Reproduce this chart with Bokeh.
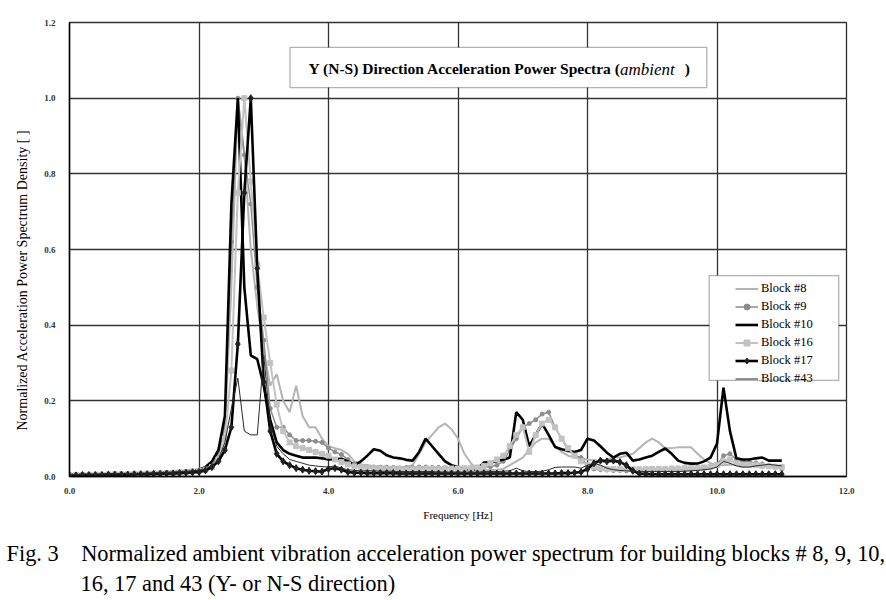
from bokeh.plotting import figure
from bokeh.models import (Label, BoxAnnotation, FixedTicker, PrintfTickFormatter,
                          Range1d, Legend, LegendItem, Title)
from bokeh.embed import file_html
from bokeh.resources import INLINE

# ---------------- data ----------------
freq = [round(i * 0.1, 1) for i in range(111)]   # 0.0 ... 11.0 Hz

block8 = [
    0.006, 0.005, 0.006, 0.007, 0.006, 0.007, 0.008, 0.007, 0.008, 0.008,
    0.009, 0.009, 0.010, 0.010, 0.011, 0.012, 0.012, 0.013, 0.014, 0.015,
    0.018, 0.022, 0.032, 0.060, 0.130, 0.500, 1.000, 0.850, 0.600, 0.450,
    0.330, 0.240, 0.270, 0.200, 0.170, 0.240, 0.160, 0.130, 0.130, 0.100,
    0.080, 0.075, 0.070, 0.060, 0.040, 0.032, 0.030, 0.028, 0.027, 0.026,
    0.025, 0.025, 0.025, 0.030, 0.060, 0.090, 0.110, 0.130, 0.140, 0.125,
    0.100, 0.060, 0.035, 0.018, 0.016, 0.017, 0.018, 0.020, 0.030, 0.040,
    0.050, 0.070, 0.090, 0.100, 0.100, 0.080, 0.065, 0.055, 0.050, 0.048,
    0.045, 0.042, 0.042, 0.045, 0.050, 0.050, 0.055, 0.060, 0.075, 0.090,
    0.100, 0.090, 0.075, 0.075, 0.077, 0.077, 0.077, 0.060, 0.045, 0.035,
    0.030, 0.030, 0.032, 0.030, 0.030, 0.030, 0.030, 0.028, 0.026, 0.025, 0.025]

block9 = [
    0.004, 0.005, 0.004, 0.005, 0.005, 0.006, 0.005, 0.006, 0.006, 0.007,
    0.007, 0.008, 0.008, 0.009, 0.009, 0.010, 0.011, 0.012, 0.013, 0.015,
    0.017, 0.020, 0.030, 0.055, 0.140, 0.620, 1.000, 0.850, 0.720, 0.500,
    0.360, 0.180, 0.130, 0.130, 0.110, 0.095, 0.095, 0.095, 0.093, 0.090,
    0.075, 0.065, 0.058, 0.045, 0.033, 0.028, 0.025, 0.025, 0.024, 0.024,
    0.024, 0.023, 0.024, 0.024, 0.025, 0.025, 0.024, 0.024, 0.023, 0.023,
    0.022, 0.022, 0.022, 0.023, 0.024, 0.026, 0.030, 0.040, 0.070, 0.100,
    0.130, 0.140, 0.150, 0.165, 0.170, 0.130, 0.100, 0.070, 0.055, 0.050,
    0.030, 0.020, 0.018, 0.017, 0.016, 0.016, 0.015, 0.015, 0.015, 0.015,
    0.015, 0.015, 0.016, 0.016, 0.017, 0.018, 0.018, 0.020, 0.022, 0.025,
    0.030, 0.055, 0.060, 0.045, 0.040, 0.038, 0.036, 0.033, 0.030, 0.025, 0.020]

block10 = [
    0.005, 0.005, 0.005, 0.006, 0.005, 0.006, 0.006, 0.006, 0.007, 0.007,
    0.008, 0.008, 0.009, 0.009, 0.010, 0.011, 0.012, 0.013, 0.014, 0.016,
    0.018, 0.025, 0.040, 0.070, 0.160, 0.720, 1.000, 0.500, 0.320, 0.310,
    0.240, 0.150, 0.090, 0.070, 0.060, 0.055, 0.050, 0.050, 0.050, 0.048,
    0.045, 0.046, 0.047, 0.040, 0.030, 0.040, 0.055, 0.072, 0.068, 0.056,
    0.050, 0.048, 0.044, 0.042, 0.065, 0.100, 0.080, 0.060, 0.040, 0.030,
    0.025, 0.020, 0.018, 0.020, 0.037, 0.038, 0.040, 0.045, 0.050, 0.170,
    0.150, 0.080, 0.110, 0.140, 0.110, 0.078, 0.072, 0.068, 0.065, 0.070,
    0.100, 0.095, 0.080, 0.063, 0.050, 0.060, 0.063, 0.042, 0.045, 0.050,
    0.055, 0.065, 0.074, 0.060, 0.042, 0.036, 0.034, 0.034, 0.040, 0.050,
    0.087, 0.235, 0.120, 0.048, 0.045, 0.045, 0.048, 0.050, 0.042, 0.042, 0.042]

block16 = [
    0.003, 0.004, 0.004, 0.004, 0.005, 0.005, 0.005, 0.006, 0.006, 0.006,
    0.007, 0.007, 0.008, 0.008, 0.009, 0.009, 0.010, 0.011, 0.012, 0.013,
    0.015, 0.018, 0.025, 0.045, 0.100, 0.280, 0.750, 1.000, 0.780, 0.560,
    0.420, 0.300, 0.190, 0.120, 0.090, 0.080, 0.075, 0.070, 0.065, 0.060,
    0.055, 0.045, 0.038, 0.032, 0.027, 0.025, 0.023, 0.022, 0.021, 0.020,
    0.020, 0.020, 0.019, 0.019, 0.020, 0.020, 0.020, 0.020, 0.021, 0.021,
    0.021, 0.022, 0.022, 0.024, 0.028, 0.035, 0.045, 0.055, 0.080, 0.110,
    0.130, 0.065, 0.110, 0.140, 0.150, 0.130, 0.100, 0.075, 0.055, 0.040,
    0.030, 0.025, 0.022, 0.020, 0.020, 0.020, 0.020, 0.019, 0.019, 0.020,
    0.020, 0.020, 0.020, 0.021, 0.021, 0.022, 0.022, 0.023, 0.024, 0.026,
    0.030, 0.040, 0.045, 0.035, 0.030, 0.030, 0.030, 0.028, 0.027, 0.026, 0.025]

block17 = [
    0.003, 0.003, 0.004, 0.004, 0.004, 0.004, 0.005, 0.005, 0.005, 0.005,
    0.006, 0.006, 0.006, 0.007, 0.007, 0.008, 0.008, 0.009, 0.010, 0.011,
    0.012, 0.016, 0.025, 0.040, 0.070, 0.130, 0.350, 0.750, 1.000, 0.550,
    0.250, 0.120, 0.060, 0.040, 0.030, 0.022, 0.018, 0.015, 0.014, 0.013,
    0.020, 0.022, 0.018, 0.012, 0.010, 0.010, 0.009, 0.009, 0.009, 0.009,
    0.009, 0.008, 0.008, 0.008, 0.008, 0.008, 0.008, 0.008, 0.008, 0.008,
    0.008, 0.008, 0.008, 0.008, 0.008, 0.008, 0.008, 0.008, 0.008, 0.008,
    0.008, 0.008, 0.008, 0.008, 0.008, 0.008, 0.009, 0.009, 0.010, 0.012,
    0.020, 0.035, 0.042, 0.040, 0.042, 0.038, 0.030, 0.015, 0.008, 0.007,
    0.006, 0.006, 0.006, 0.006, 0.006, 0.006, 0.006, 0.006, 0.006, 0.006,
    0.006, 0.006, 0.006, 0.006, 0.006, 0.006, 0.006, 0.006, 0.006, 0.006, 0.006]

block43 = [
    0.005, 0.005, 0.006, 0.006, 0.006, 0.007, 0.007, 0.007, 0.008, 0.008,
    0.008, 0.009, 0.009, 0.010, 0.010, 0.011, 0.012, 0.013, 0.014, 0.015,
    0.017, 0.020, 0.028, 0.045, 0.090, 0.180, 0.260, 0.120, 0.110, 0.110,
    0.320, 0.140, 0.080, 0.060, 0.045, 0.040, 0.035, 0.030, 0.028, 0.026,
    0.025, 0.028, 0.022, 0.018, 0.016, 0.015, 0.015, 0.015, 0.014, 0.014,
    0.014, 0.013, 0.013, 0.013, 0.013, 0.013, 0.013, 0.012, 0.012, 0.012,
    0.012, 0.012, 0.012, 0.012, 0.013, 0.013, 0.013, 0.014, 0.015, 0.022,
    0.015, 0.013, 0.013, 0.014, 0.018, 0.024, 0.025, 0.025, 0.025, 0.022,
    0.030, 0.035, 0.030, 0.022, 0.018, 0.016, 0.015, 0.014, 0.013, 0.013,
    0.013, 0.013, 0.013, 0.013, 0.013, 0.014, 0.015, 0.016, 0.018, 0.020,
    0.025, 0.040, 0.035, 0.028, 0.025, 0.025, 0.028, 0.030, 0.032, 0.030, 0.028]

x_ticks = [0, 2, 4, 6, 8, 10, 12]
y_ticks = [0.0, 0.2, 0.4, 0.6, 0.8, 1.0, 1.2]
labels = ["Block #8", "Block #9", "Block #10", "Block #16", "Block #17", "Block #43"]

for s in (block8, block9, block10, block16, block17, block43):
    assert len(s) == len(freq)

SERIF = "Liberation Serif"

# ---------------- figure ----------------
p = figure(width=886, height=600, output_backend="svg", toolbar_location=None,
           x_range=Range1d(0, 12), y_range=Range1d(0, 1.2),
           min_border_left=67, min_border_right=40, min_border_top=22,
           min_border_bottom=124)
p.background_fill_color = "white"
p.border_fill_color = "white"
p.outline_line_color = "#303030"
p.outline_line_width = 1.3

for ax in (p.xaxis[0], p.yaxis[0]):
    ax.major_tick_out = 0
    ax.major_tick_in = 0
    ax.minor_tick_out = 0
    ax.minor_tick_in = 0
    ax.axis_line_color = "black"
    ax.axis_line_width = 1.5
    ax.major_label_text_font = SERIF
    ax.major_label_text_font_size = "9px"
    ax.major_label_text_font_style = "bold"
    ax.major_label_text_color = "#333333"
    ax.formatter = PrintfTickFormatter(format="%.1f")
p.xaxis[0].ticker = FixedTicker(ticks=x_ticks)
p.yaxis[0].ticker = FixedTicker(ticks=y_ticks)
p.xaxis[0].major_label_standoff = 11
p.yaxis[0].major_label_standoff = 14

# x-axis title
p.xaxis[0].axis_label = "Frequency [Hz]"
p.xaxis[0].axis_label_text_font = SERIF
p.xaxis[0].axis_label_text_font_size = "11px"
p.xaxis[0].axis_label_text_font_style = "normal"
p.xaxis[0].axis_label_text_color = "black"
p.xaxis[0].axis_label_standoff = 12

p.xgrid[0].ticker = FixedTicker(ticks=x_ticks)
p.ygrid[0].ticker = FixedTicker(ticks=y_ticks)
for g in (p.xgrid[0], p.ygrid[0]):
    g.grid_line_color = "#333333"
    g.grid_line_width = 1.3
    g.grid_line_alpha = 1.0

# ---------------- series ----------------
r8 = p.line(freq, block8, line_color="#b4b4b4", line_width=2)
r9 = p.line(freq, block9, line_color="#8c8c8c", line_width=1.5)
s9 = p.scatter(freq, block9, marker="circle", size=4, fill_color="#8c8c8c",
               line_color="#8c8c8c")
r10 = p.line(freq, block10, line_color="black", line_width=2.6)
r16 = p.line(freq, block16, line_color="#c2c2c2", line_width=2)
s16 = p.scatter(freq, block16, marker="square", size=5, fill_color="#c2c2c2",
                line_color="#c2c2c2")
r17 = p.line(freq, block17, line_color="black", line_width=2.6)
s17 = p.scatter(freq, block17, marker="diamond", size=7, fill_color="#202020",
                line_color="#202020")
r43 = p.line(freq, block43, line_color="#2a2a2a", line_width=1)

# ---------------- title box ----------------
p.add_layout(BoxAnnotation(left=3.405, right=9.843, bottom=1.028, top=1.134,
                           fill_color="white", fill_alpha=1.0,
                           line_color="black", line_width=1.3))
p.add_layout(Label(x=3.692, y=1.078, text="Y (N-S) Direction Acceleration Power Spectra (",
                   text_font=SERIF, text_font_style="bold", text_font_size="15.5px",
                   text_baseline="middle", text_align="left", text_color="black"))
p.add_layout(Label(x=8.50, y=1.076, text="ambient",
                   text_font=SERIF, text_font_style="italic", text_font_size="17px",
                   text_baseline="middle", text_align="left", text_color="black"))
p.add_layout(Label(x=9.50, y=1.078, text=")",
                   text_font=SERIF, text_font_style="bold", text_font_size="15.5px",
                   text_baseline="middle", text_align="left", text_color="black"))

# ---------------- legend ----------------
p.add_layout(BoxAnnotation(left=9.88, right=11.88, bottom=0.254, top=0.531,
                           fill_color="white", fill_alpha=1.0,
                           line_color="black", line_width=1.3))
legend = Legend(items=[
    LegendItem(label=labels[0], renderers=[r8]),
    LegendItem(label=labels[1], renderers=[r9, s9]),
    LegendItem(label=labels[2], renderers=[r10]),
    LegendItem(label=labels[3], renderers=[r16, s16]),
    LegendItem(label=labels[4], renderers=[r17, s17]),
    LegendItem(label=labels[5], renderers=[r43]),
], location=(666, 90))
legend.border_line_color = None
legend.background_fill_alpha = 0
legend.padding = 4
legend.margin = 0
legend.spacing = 3
legend.glyph_width = 23
legend.glyph_height = 15
legend.label_height = 15
legend.label_standoff = 3
legend.label_text_font = SERIF
legend.label_text_font_size = "12.5px"
legend.label_text_color = "black"
p.add_layout(legend)

# ---------------- y-axis title (left panel) ----------------
p.add_layout(Title(text="Normalized Acceleration Power Spectrum Density [ ]",
                   align="left", offset=46, standoff=24, vertical_align="bottom",
                   text_font=SERIF, text_font_size="14px", text_font_style="normal",
                   text_color="black"), "left")

# ---------------- caption (below panels) ----------------
p.add_layout(Title(text="\u00a0", align="left", offset=0, standoff=10,
                   text_font=SERIF, text_font_size="1px"), "below")   # spacer
p.add_layout(Title(text="Fig. 3\u00a0\u00a0\u00a0 Normalized ambient vibration acceleration power spectrum for building blocks # 8, 9, 10,",
                   align="left", offset=-63, standoff=4, vertical_align="bottom",
                   text_font=SERIF, text_font_size="22.4px", text_font_style="normal",
                   text_color="black"), "below")
p.add_layout(Title(text="16, 17 and 43 (Y- or N-S direction)",
                   align="left", offset=11, standoff=2, vertical_align="bottom",
                   text_font=SERIF, text_font_size="22.4px", text_font_style="normal",
                   text_color="black"), "below")

open("out.html", "w").write(file_html(p, INLINE))
